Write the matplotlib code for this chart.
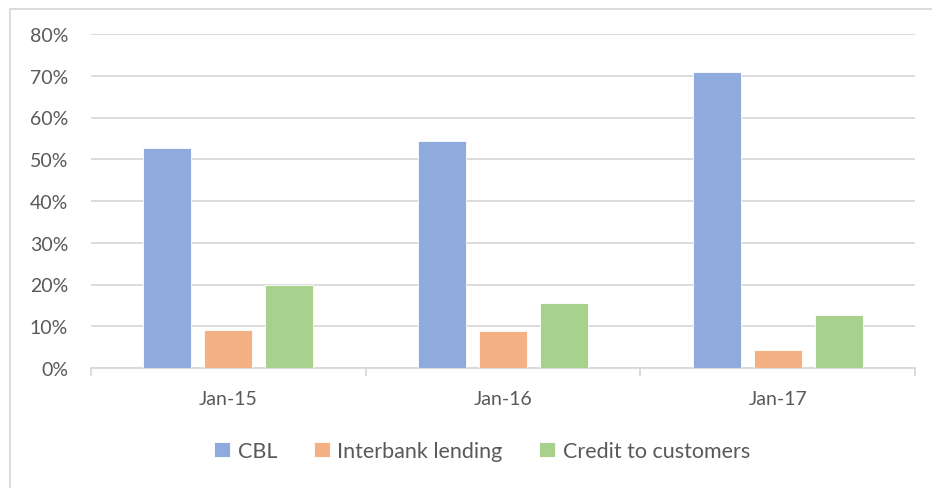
import matplotlib
matplotlib.use("Agg")
import matplotlib.pyplot as plt
import numpy as np
from matplotlib.patches import Rectangle
from matplotlib.ticker import PercentFormatter

categories = ["Jan-15", "Jan-16", "Jan-17"]
series_names = ["CBL", "Interbank lending", "Credit to customers"]
cbl = [0.527, 0.544, 0.710]
interbank = [0.092, 0.088, 0.043]
credit = [0.200, 0.156, 0.126]
colors = ["#8FAADC", "#F4B183", "#A9D18E"]

plt.rcParams['font.family'] = ['Lato', 'DejaVu Sans']

W, H = 932, 489
fig = plt.figure(figsize=(W / 100, H / 100), dpi=100)
ax = fig.add_axes([91 / W, 1 - 369 / H, (915 - 91) / W, (369 - 35) / H])

x = np.arange(len(categories))
bw = 0.175
off = 0.222
for i, (vals, name) in enumerate(zip([cbl, interbank, credit], series_names)):
    ax.bar(x + (i - 1) * off, vals, width=bw, color=colors[i], label=name,
           zorder=3, edgecolor="white", linewidth=0.6)

ax.set_xlim(-0.5, len(categories) - 0.5)
ax.set_ylim(0, 0.8)
ax.set_yticks(np.arange(0, 0.81, 0.1))
ax.yaxis.set_major_formatter(PercentFormatter(1.0, decimals=0))
ax.grid(axis="y", color="#D9D9D9", linewidth=1.3, zorder=0)
for s in ["top", "right", "left"]:
    ax.spines[s].set_visible(False)
ax.spines["bottom"].set_color("#D9D9D9")
ax.spines["bottom"].set_linewidth(1.3)
ax.set_xticks(x)
ax.set_xticklabels(categories)
ax.set_xticks(np.arange(-0.5, len(categories), 1.0), minor=True)
ax.tick_params(axis="x", which="major", length=0, pad=15.5, labelsize=14, labelcolor="#595959")
ax.tick_params(axis="x", which="minor", length=6, color="#D9D9D9", width=1.3)
ax.tick_params(axis="y", length=0, pad=16.5, labelsize=14, labelcolor="#595959")

leg = fig.legend(loc="center", bbox_to_anchor=(482 / W, 1 - 452 / H), ncol=3, frameon=False,
                 fontsize=15.5, handlelength=0.75, handleheight=0.75, handletextpad=0.35,
                 columnspacing=1.7, labelcolor="#595959")

fig.patches.append(Rectangle((10 / W, -0.1), 1.2, 1 - 10 / H + 0.1, transform=fig.transFigure,
                             fill=False, edgecolor="#D9D9D9", linewidth=1.3, zorder=0))

fig.savefig("out.png", dpi=100)
